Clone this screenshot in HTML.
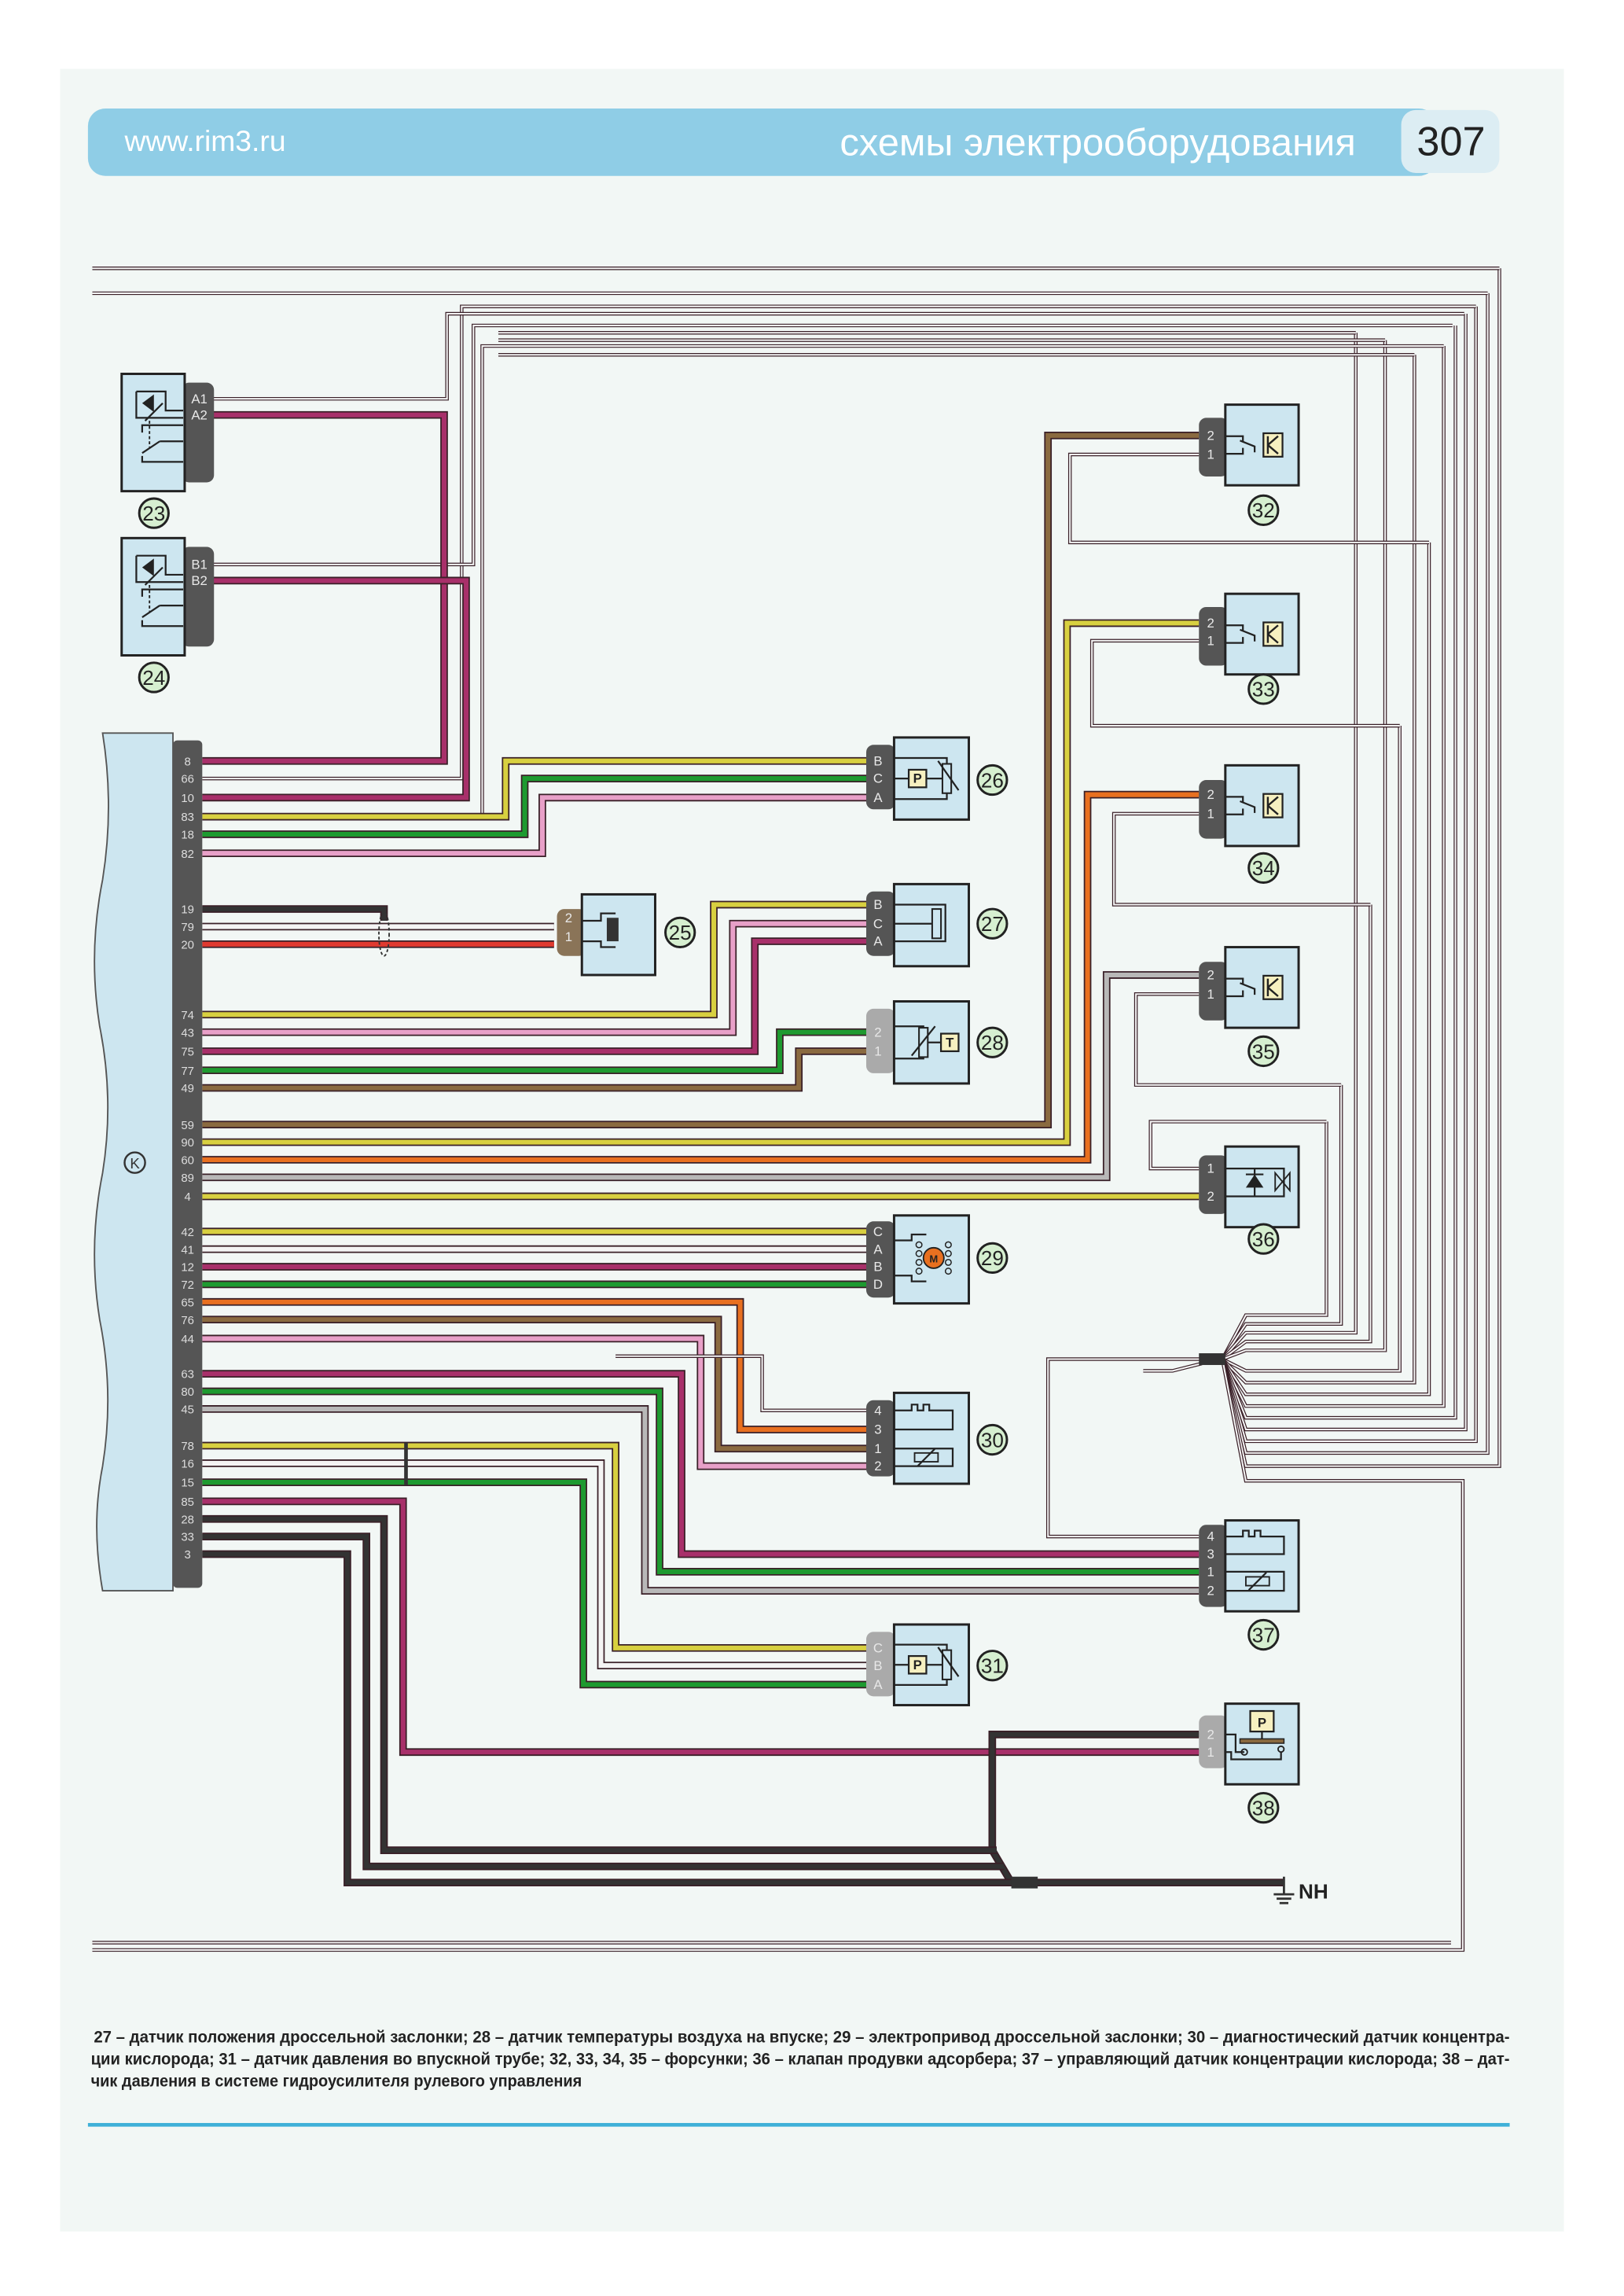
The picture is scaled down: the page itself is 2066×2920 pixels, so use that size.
<!DOCTYPE html>
<html><head><meta charset="utf-8">
<style>
html,body{margin:0;padding:0;background:#fff;}
svg{display:block;}
</style></head>
<body>
<svg id="s" width="2066" height="2920" viewBox="0 0 1108 1566" xmlns="http://www.w3.org/2000/svg" font-family="Liberation Sans, sans-serif">
<rect x="0" y="0" width="1108" height="1566" fill="#ffffff"/>
<rect x="41" y="47" width="1026" height="1475" fill="#f2f7f5"/>
<!-- header -->
<rect x="60" y="74" width="920" height="46" rx="12" fill="#8fcde6"/>
<rect x="956" y="75" width="67" height="43" rx="10" fill="#dcedf3"/>
<text x="85" y="103" font-size="20" fill="#ffffff" font-family="Liberation Sans Narrow, Liberation Sans, sans-serif">www.rim3.ru</text>
<text x="925" y="106" font-size="26" fill="#ffffff" text-anchor="end" font-family="Liberation Sans Narrow, Liberation Sans, sans-serif" textLength="352" lengthAdjust="spacingAndGlyphs">схемы электрооборудования</text>
<text x="990" y="106" font-size="28" fill="#222" text-anchor="middle" font-family="Liberation Sans Narrow, Liberation Sans, sans-serif">307</text>

<g id="wires"></g>
<g id="comps"></g>

<!-- ECU -->
<path d="M70,500 L118,500 L118,1085 L70,1085 Q62,1040 70,1000 Q78,950 68,900 Q60,850 70,800 Q78,750 68,700 Q60,650 70,600 Q78,550 70,500 Z" fill="#cde6f0" stroke="#555" stroke-width="1"/>
<rect x="118" y="505" width="20" height="578" rx="3" fill="#555"/>
<circle cx="92" cy="793" r="7" fill="none" stroke="#333" stroke-width="1.3"/>
<text x="92" y="797" font-size="10" text-anchor="middle" fill="#333">K</text>
<g id="pins" font-size="8" fill="#ddd" text-anchor="middle"></g>

<!-- caption -->
<g font-family="Liberation Sans Narrow, Liberation Sans, sans-serif" font-size="11.5" font-weight="bold" fill="#222">
<text x="64" y="1393" textLength="966" lengthAdjust="spacingAndGlyphs">27 – датчик положения дроссельной заслонки; 28 – датчик температуры воздуха на впуске; 29 – электропривод дроссельной заслонки; 30 – диагностический датчик концентра-</text>
<text x="62" y="1408" textLength="968" lengthAdjust="spacingAndGlyphs">ции кислорода; 31 – датчик давления во впускной трубе; 32, 33, 34, 35 – форсунки; 36 – клапан продувки адсорбера; 37 – управляющий датчик концентрации кислорода; 38 – дат-</text>
<text x="62" y="1423" textLength="335" lengthAdjust="spacingAndGlyphs">чик давления в системе гидроусилителя рулевого управления</text>
</g>
<rect x="60" y="1448" width="970" height="2.5" fill="#3fb0d8"/>
</svg>
<script>
const NS="http://www.w3.org/2000/svg";
const W=document.getElementById('wires'),C=document.getElementById('comps'),P=document.getElementById('pins');
function el(p,t,a){const e=document.createElementNS(NS,t);for(const k in a)e.setAttribute(k,a[k]);p.appendChild(e);return e;}
const col={w:'#f4f4f4',y:'#d8d040',g:'#1e9a30',p:'#e8a0c8',v:'#a8306a',r:'#e03a30',o:'#e87020',b:'#8a6a40',k:'#333',s:'#b8b8b8'};
function wire(c,pts,thin){
  const d='M'+pts.map(p=>p.join(',')).join(' L');
  el(W,'path',{d:d,fill:'none',stroke:'#3a2028','stroke-width':thin?2.4:5.2,'stroke-linejoin':'miter'});
  el(W,'path',{d:d,fill:'none',stroke:col[c],'stroke-width':thin?1.1:3.3,'stroke-linejoin':'miter'});
}
const E=138;
const vx=[905,915,925,935,945,955,965,975,985,993,1000,1007,1015,1023];
const tops=[765,740,227,617,232,495,242,370,236,222,214,209,200,183];
const turns=[897,903,909,915,921,935,943,951,959,967,975,983,991,1000];
for(let i=0;i<vx.length;i++){
  const x=vx[i],yt=turns[i];
  wire('w',[[834,927],[850,yt],[x,yt],[x,tops[i]]],true);
}
wire('w',[[63,183],[1023,183]],true);
wire('w',[[63,200],[1015,200]],true);
wire('w',[[1007,209],[315,209],[315,531],[E,531]],true);
wire('w',[[999,214],[305,214],[305,272],[145,272]],true);
wire('w',[[991,222],[323,222],[323,385],[145,385]],true);
wire('w',[[985,236],[329,236],[329,557]],true);
wire('w',[[925,227],[340,227]],true);
wire('w',[[945,232],[340,232]],true);
wire('w',[[965,242],[340,242]],true);
wire('w',[[818,310],[730,310],[730,370],[975,370]],true);
wire('w',[[818,437],[745,437],[745,495],[955,495]],true);
wire('w',[[818,555],[760,555],[760,617],[935,617]],true);
wire('w',[[818,678],[775,678],[775,740],[915,740]],true);
wire('w',[[818,797],[785,797],[785,765],[905,765]],true);
wire('w',[[63,1330],[998,1330],[998,1010],[850,1010],[834,927]],true);
wire('w',[[63,1325],[990,1325]],true);
wire('w',[[820,927],[715,927],[715,1048],[818,1048]],true);
wire('w',[[820,930],[800,935],[780,935]],true);
el(W,'rect',{x:818,y:923,width:18,height:8,fill:'#333'});
wire('v',[[145,283],[303,283],[303,519],[E,519]]);
wire('v',[[145,396],[318,396],[318,544],[E,544]]);
wire('y',[[E,557],[345,557],[345,519],[593,519]]);
wire('g',[[E,569],[358,569],[358,531],[593,531]]);
wire('p',[[E,582],[370,582],[370,544],[593,544]]);
wire('k',[[E,620],[262,620],[262,628]]);
wire('w',[[E,632],[378,632]]);
wire('r',[[E,644],[378,644]]);
el(W,'ellipse',{cx:262,cy:637,rx:3.5,ry:15,fill:'none',stroke:'#333','stroke-width':1,'stroke-dasharray':'2,1.5'});
wire('y',[[E,692],[487,692],[487,617],[593,617]]);
wire('p',[[E,704],[500,704],[500,630],[593,630]]);
wire('v',[[E,717],[515,717],[515,642],[593,642]]);
wire('g',[[E,730],[532,730],[532,704],[593,704]]);
wire('b',[[E,742],[545,742],[545,717],[593,717]]);
wire('b',[[E,767],[715,767],[715,297],[818,297]]);
wire('y',[[E,779],[728,779],[728,425],[818,425]]);
wire('o',[[E,791],[742,791],[742,542],[818,542]]);
wire('s',[[E,803],[755,803],[755,665],[818,665]]);
wire('y',[[E,816],[818,816]]);
wire('y',[[E,840],[593,840]]);
wire('w',[[E,852],[593,852]]);
wire('v',[[E,864],[593,864]]);
wire('g',[[E,876],[593,876]]);
wire('o',[[E,888],[505,888],[505,975],[593,975]]);
wire('b',[[E,900],[490,900],[490,988],[593,988]]);
wire('p',[[E,913],[478,913],[478,1000],[593,1000]]);
wire('w',[[593,962],[520,962],[520,925],[420,925]],true);
wire('v',[[E,937],[465,937],[465,1060],[818,1060]]);
wire('g',[[E,949],[450,949],[450,1072],[818,1072]]);
wire('s',[[E,961],[440,961],[440,1085],[818,1085]]);
wire('y',[[E,986],[420,986],[420,1124],[593,1124]]);
wire('w',[[E,998],[410,998],[410,1136],[593,1136]]);
wire('g',[[E,1011],[398,1011],[398,1149],[593,1149]]);
el(W,'line',{x1:277,y1:984,x2:277,y2:1013,stroke:'#333','stroke-width':2.5});
wire('v',[[E,1024],[275,1024],[275,1195],[818,1195]]);
wire('k',[[818,1183],[677,1183],[677,1262],[690,1284]]);
wire('k',[[E,1036],[262,1036],[262,1262],[680,1262]]);
wire('k',[[E,1048],[250,1048],[250,1273],[685,1273]]);
wire('k',[[E,1060],[237,1060],[237,1284],[876,1284]]);
el(W,'rect',{x:690,y:1280,width:18,height:8,fill:'#333'});
el(W,'line',{x1:876,y1:1280,x2:876,y2:1292,stroke:'#333','stroke-width':1.5});
el(W,'line',{x1:869,y1:1292,x2:883,y2:1292,stroke:'#333','stroke-width':1.5});
el(W,'line',{x1:871,y1:1295,x2:881,y2:1295,stroke:'#333','stroke-width':1.5});
el(W,'line',{x1:873,y1:1298,x2:879,y2:1298,stroke:'#333','stroke-width':1.5});
const nh=el(W,'text',{x:886,y:1295,'font-size':14,'font-weight':'bold',fill:'#222'});nh.textContent='NH';

const pins=[[8,519],[66,531],[10,544],[83,557],[18,569],[82,582],[19,620],[79,632],[20,644],[74,692],[43,704],[75,717],[77,730],[49,742],[59,767],[90,779],[60,791],[89,803],[4,816],[42,840],[41,852],[12,864],[72,876],[65,888],[76,900],[44,913],[63,937],[80,949],[45,961],[78,986],[16,998],[15,1011],[85,1024],[28,1036],[33,1048],[3,1060]];
pins.forEach(p=>{const t=el(P,'text',{x:128,y:p[1]+3});t.textContent=p[0];});

function comp(bx,by,bw,bh,cx,cy,ch,ccol,labels,num,nx,ny,inner,cw){
  cw=cw||16;
  el(C,'rect',{x:cx,y:cy,width:cw+4,height:ch,rx:5,fill:ccol});
  el(C,'rect',{x:bx,y:by,width:bw,height:bh,fill:'#cde6f0',stroke:'#222','stroke-width':1.6});
  labels.forEach(l=>{const t=el(C,'text',{x:l[2]!==undefined?l[2]:cx+cw/2,y:l[1]+3,'font-size':9,fill:'#e8e8e8','text-anchor':'middle'});t.textContent=l[0];});
  el(C,'circle',{cx:nx,cy:ny,r:10,fill:'#d6efd0',stroke:'#222','stroke-width':1.6});
  const t=el(C,'text',{x:nx,y:ny+5,'font-size':14,'text-anchor':'middle',fill:'#222','font-family':'Liberation Sans Narrow, Liberation Sans, sans-serif'});t.textContent=num;
  if(inner)inner();
}
function ln(pts,w){el(C,'path',{d:'M'+pts.map(p=>p.join(',')).join(' L'),fill:'none',stroke:'#222','stroke-width':w||1.2});}
function rc(x,y,w,h,f){el(C,'rect',{x:x,y:y,width:w,height:h,fill:f||'#f6f0c0',stroke:'#222','stroke-width':1.2});}
function tx(x,y,s,sz){const t=el(C,'text',{x:x,y:y,'font-size':sz||8,'text-anchor':'middle',fill:'#222','font-weight':'bold'});t.textContent=s;}
function pedal(bx,by){
  ln([[bx+10,by+12],[bx+30,by+12],[bx+30,by+25],[bx+42,by+25]]);
  ln([[bx+10,by+12],[bx+10,by+30],[bx+42,by+30]]);
  el(C,'path',{d:`M${bx+22},${by+14} L${bx+22},${by+26} L${bx+14},${by+20} Z`,fill:'#222'});
  ln([[bx+14,by+40],[bx+14,by+35],[bx+42,by+35]]);
  ln([[bx+16,by+32],[bx+28,by+20]]);
  ln([[bx+14,by+54],[bx+26,by+46]]);
  ln([[bx+14,by+56],[bx+14,by+60],[bx+42,by+60]]);
  ln([[bx+26,by+46],[bx+42,by+46]]);
  el(C,'line',{x1:bx+19,y1:by+32,x2:bx+19,y2:by+50,stroke:'#222','stroke-width':1,'stroke-dasharray':'2,1.5'});
}
comp(83,255,43,80,124,261,68,'#555',[['A1',272,136],['A2',283,136]],'23',105,350,()=>pedal(83,255),18);
comp(83,367,43,80,124,373,68,'#555',[['B1',385,136],['B2',396,136]],'24',105,462,()=>pedal(83,367),18);
function pSensor(bx,by,bh){
  ln([[bx,by+bh*0.25],[bx+36,by+bh*0.25],[bx+36,by+bh*0.75],[bx,by+bh*0.75]]);
  ln([[bx,by+bh/2],[bx+10,by+bh/2]]);
  rc(bx+10,by+bh/2-6,12,12);tx(bx+16,by+bh/2+3,'P',9);
  ln([[bx+22,by+bh/2],[bx+33,by+bh/2]]);
  el(C,'rect',{x:bx+33,y:by+bh/2-10,width:6,height:20,fill:'#cde6f0',stroke:'#222','stroke-width':1.1});
  ln([[bx+30,by+bh/2-12],[bx+44,by+bh/2+8]]);
}
comp(610,503,51,56,591,508,44,'#555',[['B',519],['C',531],['A',544]],'26',677,532,()=>pSensor(610,503,56));
comp(397,610,50,55,380,620,32,'#8a7458',[['2',626],['1',639]],'25',464,636,()=>{
  ln([[397,628],[410,628],[410,623],[420,623]]);ln([[397,642],[410,642],[410,646],[420,646]]);
  el(C,'rect',{x:414,y:626,width:8,height:16,fill:'#333'});
});
comp(610,603,51,56,591,608,44,'#555',[['B',617],['C',630],['A',642]],'27',677,630,()=>{
  ln([[610,617],[645,617],[645,642],[610,642]]);ln([[610,630],[636,630]]);
  el(C,'rect',{x:636,y:620,width:6,height:20,fill:'#cde6f0',stroke:'#222','stroke-width':1.1});
});
comp(610,683,51,56,591,688,44,'#aaa',[['2',704],['1',717]],'28',677,711,()=>{
  ln([[610,700],[630,700],[630,722],[610,722]]);ln([[630,711],[642,711]]);
  el(C,'rect',{x:627,y:701,width:6,height:20,fill:'#cde6f0',stroke:'#222','stroke-width':1.1});
  ln([[622,720],[638,700]]);rc(642,705,12,12);tx(648,714,'T',9);
});
comp(610,829,51,60,591,833,52,'#555',[['C',840],['A',852],['B',864],['D',876]],'29',677,858,()=>{
  ln([[610,846],[622,846],[622,842],[632,842]]);ln([[610,870],[622,870],[622,874],[632,874]]);
  el(C,'circle',{cx:637,cy:858,r:7,fill:'#e87020',stroke:'#222','stroke-width':1});tx(637,861,'M',7);
  for(let i=0;i<4;i++){el(C,'circle',{cx:627,cy:849+i*6,r:2,fill:'none',stroke:'#222','stroke-width':0.8});el(C,'circle',{cx:647,cy:849+i*6,r:2,fill:'none',stroke:'#222','stroke-width':0.8});}
});
function o2(bx,by,bh,p){
  ln([[bx,p[0]],[bx+12,p[0]],[bx+12,p[0]-4],[bx+16,p[0]-4],[bx+16,p[0]],[bx+20,p[0]],[bx+20,p[0]-4],[bx+24,p[0]-4],[bx+24,p[0]],[bx+40,p[0]],[bx+40,p[1]],[bx,p[1]]]);
  ln([[bx,p[2]],[bx+40,p[2]],[bx+40,p[3]],[bx,p[3]]]);
  el(C,'rect',{x:bx+14,y:(p[2]+p[3])/2-3,width:16,height:6,fill:'#cde6f0',stroke:'#222','stroke-width':1});
  ln([[bx+16,(p[2]+p[3])/2+6],[bx+28,(p[2]+p[3])/2-6]]);
}
comp(610,950,51,62,591,955,52,'#555',[['4',962],['3',975],['1',988],['2',1000]],'30',677,982,()=>o2(610,950,62,[962,975,988,1000]));
comp(610,1108,51,55,591,1113,44,'#aaa',[['C',1124],['B',1136],['A',1149]],'31',677,1136,()=>pSensor(610,1108,55));
function inj(bx,by,bh){
  const m=by+bh/2;
  ln([[bx,m-6],[bx+12,m-6],[bx+12,m-2]]);ln([[bx,m+6],[bx+12,m+6],[bx+12,m+2]]);
  el(C,'path',{d:`M${bx+10},${m-3} L${bx+20},${m+1} L${bx+20},${m+5}`,fill:'none',stroke:'#222','stroke-width':1.2});
  rc(bx+26,m-8,13,16);
  el(C,'path',{d:`M${bx+29},${m} L${bx+36},${m-6} M${bx+29},${m} L${bx+36},${m+6} M${bx+29},${m-6} L${bx+29},${m+6}`,stroke:'#222','stroke-width':1.3,fill:'none'});
}
comp(836,276,50,55,818,285,40,'#555',[['2',297],['1',310]],'32',862,348,()=>inj(836,276,55));
comp(836,405,50,55,818,414,40,'#555',[['2',425],['1',437]],'33',862,470,()=>inj(836,405,55));
comp(836,522,50,55,818,532,40,'#555',[['2',542],['1',555]],'34',862,592,()=>inj(836,522,55));
comp(836,646,50,55,818,656,40,'#555',[['2',665],['1',678]],'35',862,717,()=>inj(836,646,55));
comp(836,782,50,55,818,788,40,'#555',[['1',797],['2',816]],'36',862,845,()=>{
  ln([[836,797],[876,797],[876,816],[836,816]]);ln([[856,797],[856,816]]);
  el(C,'path',{d:'M850,810 L862,810 L856,801 Z',fill:'#222'});ln([[850,801],[862,801]]);
  el(C,'path',{d:'M870,800 L880,812 L880,800 L870,812 Z',fill:'none',stroke:'#222','stroke-width':1});
});
comp(836,1037,50,62,818,1040,56,'#555',[['4',1048],['3',1060],['1',1072],['2',1085]],'37',862,1115,()=>o2(836,1037,62,[1048,1060,1072,1085]));
comp(836,1162,50,55,818,1170,36,'#aaa',[['2',1183],['1',1195]],'38',862,1233,()=>{
  rc(853,1167,16,14);tx(861,1178,'P',9);
  ln([[861,1181],[861,1186]]);el(C,'rect',{x:846,y:1186,width:30,height:3,fill:'#8a6a40',stroke:'#222','stroke-width':0.8});
  ln([[836,1183],[843,1183],[843,1195],[849,1195]]);ln([[836,1195],[840,1195],[840,1200],[874,1200],[874,1195]]);
  el(C,'circle',{cx:849,cy:1195,r:2,fill:'none',stroke:'#222'});el(C,'circle',{cx:874,cy:1193,r:2,fill:'none',stroke:'#222'});
});
</script>
</body></html>
